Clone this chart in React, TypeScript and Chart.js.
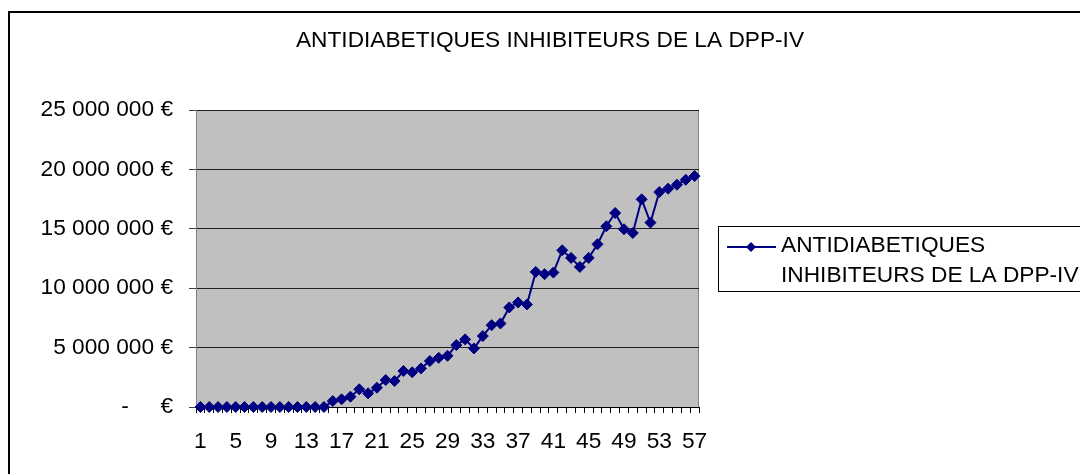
import React, { useEffect, useRef } from "react";
import { Chart, registerables } from "chart.js";

Chart.register(...registerables);

const TITLE = "ANTIDIABETIQUES INHIBITEURS DE LA DPP-IV";
const SERIES_NAME_LINES = ["ANTIDIABETIQUES", "INHIBITEURS DE LA DPP-IV"];

const categories = [
  "1", "2", "3", "4", "5", "6", "7", "8", "9", "10",
  "11", "12", "13", "14", "15", "16", "17", "18", "19", "20",
  "21", "22", "23", "24", "25", "26", "27", "28", "29", "30",
  "31", "32", "33", "34", "35", "36", "37", "38", "39", "40",
  "41", "42", "43", "44", "45", "46", "47", "48", "49", "50",
  "51", "52", "53", "54", "55", "56", "57",
];

const values = [
  0, 0, 0, 0, 0, 0, 0, 0, 0, 0,
  0, 0, 0, 0, 0, 500000, 650000, 870000, 1490000, 1150000,
  1620000, 2270000, 2180000, 3030000, 2920000, 3250000, 3870000, 4140000, 4310000, 5210000,
  5690000, 4930000, 5970000, 6890000, 7030000, 8380000, 8800000, 8630000, 11370000, 11180000,
  11320000, 13190000, 12550000, 11790000, 12550000, 13700000, 15210000, 16330000, 14960000, 14650000,
  17480000, 15520000, 18090000, 18380000, 18710000, 19130000, 19440000,
];

const yTicks = [0, 5000000, 10000000, 15000000, 20000000, 25000000];

const FONT_FAMILY = '"Liberation Sans", Arial, sans-serif';
const FONT_SIZE = 22.7;
const NAVY = "#000080";

function fmtEuro(v: number): string {
  if (v === 0) return "-     €";
  return String(v).replace(/\B(?=(\d{3})+(?!\d))/g, " ") + " €";
}

const decorPlugin = {
  id: "decor",
  beforeDraw(chart: any) {
    const { ctx, chartArea } = chart;
    ctx.save();
    ctx.fillStyle = "#ffffff";
    ctx.fillRect(0, 0, chart.width, chart.height);
    ctx.strokeStyle = "#000000";
    ctx.lineWidth = 2;
    ctx.strokeRect(9, 12, 1200, 600);
    ctx.fillStyle = "#C0C0C0";
    ctx.fillRect(chartArea.left, chartArea.top, chartArea.right - chartArea.left, chartArea.bottom - chartArea.top);
    ctx.strokeStyle = "#808080";
    ctx.lineWidth = 1;
    ctx.strokeRect(chartArea.left + 0.5, chartArea.top + 0.5, chartArea.right - chartArea.left - 1, chartArea.bottom - chartArea.top);
    ctx.restore();
  },
  afterDraw(chart: any) {
    const { ctx } = chart;
    ctx.save();
    ctx.font = `${FONT_SIZE}px ${FONT_FAMILY}`;
    ctx.fillStyle = "#000000";
    ctx.textBaseline = "alphabetic";
    ctx.textAlign = "center";
    ctx.fillText(TITLE, 550, 47);
    ctx.strokeStyle = "#000000";
    ctx.lineWidth = 1;
    ctx.strokeRect(718.5, 226.5, 600, 65);
    ctx.strokeStyle = NAVY;
    ctx.lineWidth = 2;
    ctx.beginPath();
    ctx.moveTo(727, 247);
    ctx.lineTo(776, 247);
    ctx.stroke();
    ctx.fillStyle = NAVY;
    ctx.beginPath();
    ctx.moveTo(751, 242);
    ctx.lineTo(756, 247);
    ctx.lineTo(751, 252);
    ctx.lineTo(746, 247);
    ctx.closePath();
    ctx.fill();
    ctx.fillStyle = "#000000";
    ctx.textAlign = "left";
    ctx.fillText(SERIES_NAME_LINES[0], 781, 252);
    ctx.fillText(SERIES_NAME_LINES[1], 781, 282);
    ctx.restore();
  },
};

export default function App() {
  const ref = useRef<HTMLCanvasElement | null>(null);

  useEffect(() => {
    document.body.style.margin = "0";
    if (!ref.current) return;
    const chart = new Chart(ref.current, {
      type: "line",
      data: {
        labels: categories,
        datasets: [
          {
            label: SERIES_NAME_LINES.join(" "),
            data: values,
            borderColor: NAVY,
            backgroundColor: NAVY,
            borderWidth: 2,
            pointStyle: "rectRot",
            pointRadius: 5.5,
            pointBorderWidth: 1,
            pointBackgroundColor: NAVY,
            pointBorderColor: NAVY,
            tension: 0,
            clip: false as any,
          },
        ],
      },
      options: {
        responsive: false,
        animation: false,
        layout: { padding: { left: 0, top: 110, right: 381, bottom: 0 } },
        plugins: {
          legend: { display: false },
          title: { display: false },
          tooltip: { enabled: false },
        },
        scales: {
          x: {
            type: "category",
            offset: true,
            grid: {
              offset: true,
              drawOnChartArea: false,
              tickLength: 6,
              color: "#000000",
              tickColor: "#000000",
            },
            border: { color: "#000000", width: 1 },
            ticks: {
              autoSkip: false,
              maxRotation: 0,
              minRotation: 0,
              padding: 15,
              color: "#000000",
              font: { family: FONT_FAMILY, size: FONT_SIZE },
              callback: (_v: any, idx: number) => (idx % 4 === 0 ? categories[idx] : ""),
            },
            afterFit: (s: any) => {
              s.height = 67;
            },
          },
          y: {
            min: yTicks[0],
            max: yTicks[yTicks.length - 1],
            afterBuildTicks: (s: any) => {
              s.ticks = yTicks.map((v) => ({ value: v }));
            },
            grid: {
              color: "#202020",
              tickLength: 7,
              tickColor: "#404040",
            },
            border: { color: "#808080", width: 1 },
            ticks: {
              padding: 16,
              color: "#000000",
              font: { family: FONT_FAMILY, size: FONT_SIZE },
              callback: (v: any) => fmtEuro(Number(v)),
            },
            afterFit: (s: any) => {
              s.width = 196;
            },
          },
        },
      } as any,
      plugins: [decorPlugin],
    });
    return () => chart.destroy();
  }, []);

  return (
    <div style={{ position: "absolute", left: 0, top: 0, width: 1080, height: 474 }}>
      <canvas ref={ref} width={1080} height={474} style={{ width: 1080, height: 474, display: "block" }} />
    </div>
  );
}
